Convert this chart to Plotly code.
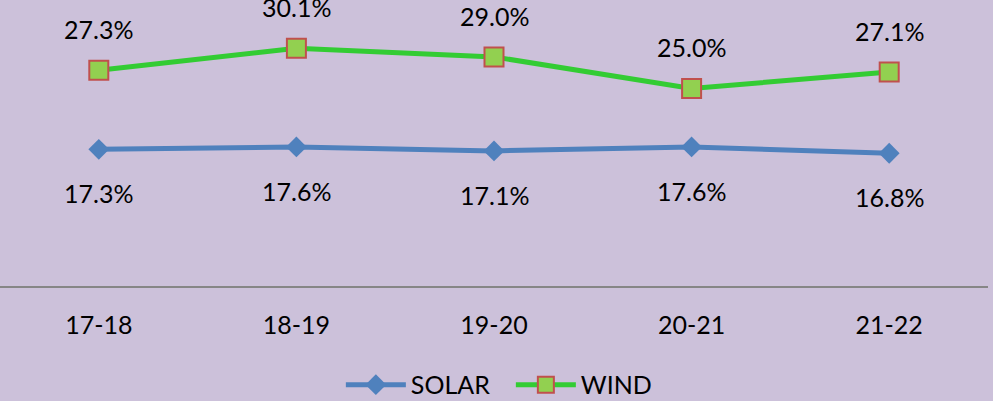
import plotly.graph_objects as go

years = ["17-18", "18-19", "19-20", "20-21", "21-22"]
solar = [17.3, 17.6, 17.1, 17.6, 16.8]
wind = [27.3, 30.1, 29.0, 25.0, 27.1]

BG = "#CCC1DA"
FONT = "Lato"
FS = 25

fig = go.Figure()
fig.add_trace(go.Scatter(
    x=years, y=solar, name="SOLAR", mode="lines+markers",
    line=dict(color="#4F81BD", width=5),
    marker=dict(symbol="diamond", size=16, color="#4F81BD"),
    cliponaxis=False,
))
fig.add_trace(go.Scatter(
    x=years, y=wind, name="WIND", mode="lines+markers",
    line=dict(color="#33CC33", width=5),
    marker=dict(symbol="square", size=19, color="#92D050",
                line=dict(color="#C0504D", width=2)),
    cliponaxis=False,
))

# value labels: wind above, solar below
for x, v in zip(years, wind):
    fig.add_annotation(x=x, y=v, text=f"{v:.1f}%", showarrow=False, yshift=41,
                       font=dict(size=FS, color="#000000", family=FONT))
for x, v in zip(years, solar):
    fig.add_annotation(x=x, y=v, text=f"{v:.1f}%", showarrow=False, yshift=-44,
                       font=dict(size=FS, color="#000000", family=FONT))

fig.update_layout(
    width=993, height=401,
    margin=dict(l=0, r=5, t=0, b=115, autoexpand=False),
    paper_bgcolor=BG, plot_bgcolor=BG,
    font=dict(family=FONT, size=FS, color="#000000"),
    showlegend=True,
    legend=dict(orientation="h", x=0.345, xanchor="left", y=-0.346, yanchor="middle",
                bgcolor="rgba(0,0,0,0)", font=dict(size=FS), itemwidth=60,
                entrywidth=95, entrywidthmode="pixels"),
    xaxis=dict(showline=True, linecolor="#868686", linewidth=2, showgrid=False,
               ticks="", ticklabelstandoff=16, tickfont=dict(size=FS),
               range=[-0.5, 4.5]),
    yaxis=dict(range=[0, 36.2], visible=False, showgrid=False, zeroline=False),
)

fig.write_html("out.html", config={"displayModeBar": False},
               post_script="document.body.style.margin='0';")
